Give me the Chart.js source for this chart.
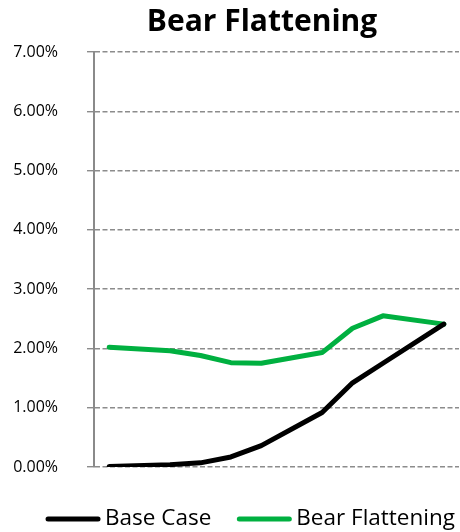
<!DOCTYPE html>
<html>
<head>
<meta charset="utf-8">
<script src="https://cdn.jsdelivr.net/npm/chart.js@4.4.1/dist/chart.umd.min.js"></script>
<style>
  html, body { margin: 0; padding: 0; background: #ffffff; }
  #wrap { width: 460px; height: 532px; position: relative; }
</style>
</head>
<body>
<div id="wrap"><canvas id="chart"></canvas></div>
<script>
// Yield curve maturities (category axis, labels not drawn)
const maturities = ['1M', '2M', '3M', '6M', '1Y', '2Y', '3Y', '5Y', '7Y', '10Y', '20Y', '30Y'];

// Yields in percent; null where a maturity has no quote
const baseCase        = [0.01, null, 0.04, 0.07, 0.17, 0.36, null, 0.92, 1.42, 1.75, null, 2.41];
const bearFlattening  = [2.02, null, 1.96, 1.88, 1.76, 1.75, null, 1.93, 2.34, 2.55, null, 2.41];

// Y axis ticks (percent)
const yTicks = [0, 1, 2, 3, 4, 5, 6, 7];

const chartTitle = 'Bear Flattening';
const seriesNames = ['Base Case', 'Bear Flattening'];

const FONT = '"Open Sans", Lato, sans-serif';

// Title drawn above the plot area
const titlePlugin = {
  id: 'plotTitle',
  afterDraw(chart) {
    const { ctx } = chart;
    ctx.save();
    ctx.font = 'bold 30px ' + FONT;
    ctx.fillStyle = '#000000';
    ctx.textAlign = 'center';
    ctx.textBaseline = 'alphabetic';
    ctx.fillText(chartTitle, 262, 31);
    ctx.restore();
  }
};

// Line-sample legend along the bottom edge, right-aligned
const bottomLegend = {
  id: 'bottomLegend',
  afterDraw(chart) {
    const { ctx } = chart;
    const sampleLen = 50;   // stroke length between round caps
    const textGap = 7;
    const itemGap = 28;
    const rightEdge = chart.width - 5;
    const y = 519;
    ctx.save();
    ctx.font = '22.5px ' + FONT;
    const items = chart.data.datasets.map(ds => ({
      label: ds.label, color: ds.borderColor, width: ds.borderWidth,
      textW: ctx.measureText(ds.label).width
    }));
    const total = items.reduce((s, it) => s + sampleLen + textGap + it.textW, 0) + itemGap * (items.length - 1);
    let x = rightEdge - total;
    items.forEach(it => {
      ctx.beginPath();
      ctx.lineCap = 'round';
      ctx.lineWidth = it.width;
      ctx.strokeStyle = it.color;
      ctx.moveTo(x, y);
      ctx.lineTo(x + sampleLen, y);
      ctx.stroke();
      x += sampleLen + textGap;
      ctx.fillStyle = '#000000';
      ctx.textAlign = 'left';
      ctx.textBaseline = 'middle';
      ctx.fillText(it.label, x, y);
      x += it.textW + itemGap;
    });
    ctx.restore();
  }
};

new Chart(document.getElementById('chart'), {
  type: 'line',
  data: {
    labels: maturities,
    datasets: [
      {
        label: seriesNames[0],
        data: baseCase,
        borderColor: '#000000',
        backgroundColor: '#000000',
        borderWidth: 5,
        borderCapStyle: 'round',
        borderJoinStyle: 'round',
        pointRadius: 0,
        pointHoverRadius: 0,
        tension: 0,
        spanGaps: true,
        fill: false
      },
      {
        label: seriesNames[1],
        data: bearFlattening,
        borderColor: '#00b040',
        backgroundColor: '#00b040',
        borderWidth: 5,
        borderCapStyle: 'round',
        borderJoinStyle: 'round',
        pointRadius: 0,
        pointHoverRadius: 0,
        tension: 0,
        spanGaps: true,
        fill: false
      }
    ]
  },
  options: {
    responsive: true,
    maintainAspectRatio: false,
    animation: false,
    layout: { padding: { top: 52, right: 1, bottom: 65, left: 0 } },
    plugins: {
      title: { display: false },
      tooltip: { enabled: false },
      legend: { display: false }
    },
    scales: {
      x: {
        type: 'category',
        display: false,
        offset: true,
        grid: { display: false }
      },
      y: {
        min: 0,
        max: 7,
        afterBuildTicks(scale) {
          scale.ticks = yTicks.map(v => ({ value: v }));
        },
        afterFit(scale) { scale.width = 94; },
        ticks: {
          padding: 29,
          color: '#000000',
          font: { family: FONT, size: 16 },
          callback: v => Number(v).toFixed(2) + '%'
        },
        grid: {
          color: '#8c8c8c',
          lineWidth: 1.4,
          tickLength: 7,
          tickColor: '#8c8c8c',
          tickWidth: 1.4,
          tickBorderDash: []
        },
        border: {
          display: true,
          color: '#8a8a8a',
          width: 2,
          dash: [5, 2.5]
        }
      }
    }
  },
  plugins: [titlePlugin, bottomLegend]
});
</script>
</body>
</html>
